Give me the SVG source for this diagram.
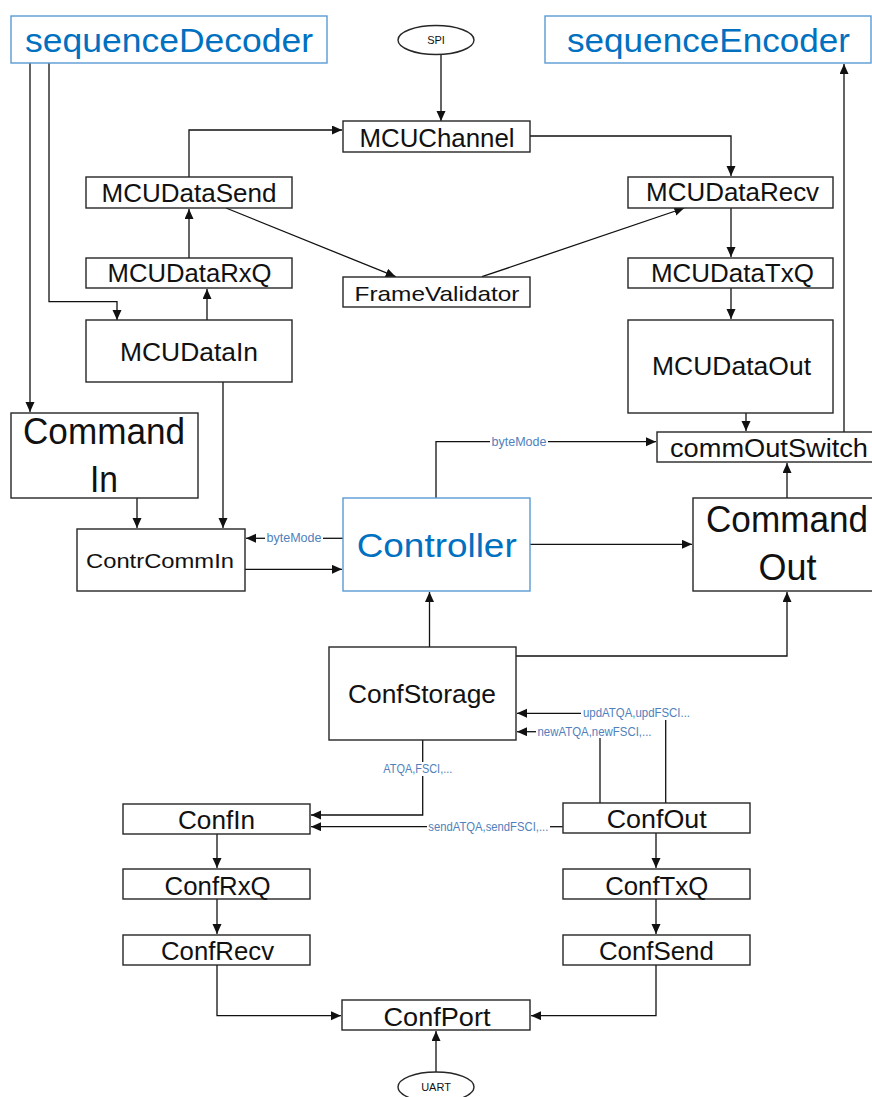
<svg xmlns="http://www.w3.org/2000/svg" width="872" height="1097" viewBox="0 0 872 1097">
<style>
.n{fill:#fff;stroke:#262626;stroke-width:1.4}
.b{fill:#fff;stroke:#5b9bd5;stroke-width:1.4}
.t{font-family:"Liberation Sans",Arial,sans-serif;fill:#111;text-anchor:middle}
.tb{font-family:"Liberation Sans",Arial,sans-serif;fill:#0070c0;text-anchor:middle}
.l{font-family:"Liberation Sans",Arial,sans-serif;fill:#4f7fbc;font-size:12px;text-anchor:middle}
.c{fill:none;stroke:#111;stroke-width:1.3}
.a{marker-end:url(#ah)}
</style>
<defs>
<marker id="ah" markerUnits="userSpaceOnUse" markerWidth="11" markerHeight="10" refX="10" refY="4.5" orient="auto">
<path d="M0,0 L10,4.5 L0,9 z" fill="#111"/>
</marker>
</defs>
<g id="connectors">
<path class="c a" d="M30,63 V412"/>
<path class="c a" d="M49,63 V301.7 H117 V320"/>
<path class="c a" d="M207,320 V289"/>
<path class="c a" d="M189,258 V209"/>
<path class="c a" d="M189,177 V130 H342"/>
<path class="c a" d="M441,54 V121"/>
<path class="c a" d="M530,136 H731 V176"/>
<path class="c a" d="M226,208 L395.7,276.7"/>
<path class="c a" d="M482,276.7 L684.3,208"/>
<path class="c a" d="M731,208 V257"/>
<path class="c a" d="M731,288 V319"/>
<path class="c a" d="M746,413 V431"/>
<path class="c a" d="M844,432 V64"/>
<path class="c a" d="M787,498 V463"/>
<path class="c" d="M436,498 V441.7 H490"/>
<path class="c a" d="M548,441.7 H656"/>
<path class="c a" d="M530,544.3 H692"/>
<path class="c a" d="M137,498 V528"/>
<path class="c a" d="M223,382 V528"/>
<path class="c" d="M343,538.3 H323"/>
<path class="c a" d="M265,538.3 H246"/>
<path class="c a" d="M245,569.3 H342"/>
<path class="c a" d="M429.5,647 V592"/>
<path class="c a" d="M516,656 H787 V592"/>
<path class="c" d="M665.7,803 V720"/>
<path class="c a" d="M581,713.3 H517"/>
<path class="c" d="M600,803 V738"/>
<path class="c a" d="M536,731.7 H517"/>
<path class="c" d="M422.7,740 V762"/>
<path class="c a" d="M422.7,776 V815 H311"/>
<path class="c" d="M562.7,826.7 H550"/>
<path class="c a" d="M427,826.7 H311"/>
<path class="c a" d="M217,834 V868"/>
<path class="c a" d="M217,899 V934"/>
<path class="c a" d="M656,833 V868"/>
<path class="c a" d="M656,899 V934"/>
<path class="c a" d="M217,965 V1015.7 H341"/>
<path class="c a" d="M656,965 V1015.7 H531"/>
<path class="c a" d="M436,1072 V1031"/>
<text class="l" x="519" y="445.8" textLength="55" lengthAdjust="spacingAndGlyphs">byteMode</text>
<text class="l" x="294" y="542.4" textLength="55" lengthAdjust="spacingAndGlyphs">byteMode</text>
<text class="l" x="636.5" y="717.4" textLength="107" lengthAdjust="spacingAndGlyphs">updATQA,updFSCI...</text>
<text class="l" x="594.5" y="735.8" textLength="114" lengthAdjust="spacingAndGlyphs">newATQA,newFSCI,...</text>
<text class="l" x="417.8" y="773.1" textLength="69" lengthAdjust="spacingAndGlyphs">ATQA,FSCI,...</text>
<text class="l" x="488.3" y="830.8" textLength="120" lengthAdjust="spacingAndGlyphs">sendATQA,sendFSCI,...</text>
</g>
<g id="sequenceDecoder"><rect class="b" x="11" y="16" width="316" height="47"/><text class="tb" x="169" y="51.7" font-size="33" textLength="288" lengthAdjust="spacingAndGlyphs">sequenceDecoder</text></g>
<g id="sequenceEncoder"><rect class="b" x="545" y="16" width="326" height="47"/><text class="tb" x="708.5" y="51.7" font-size="33" textLength="283" lengthAdjust="spacingAndGlyphs">sequenceEncoder</text></g>
<g id="SPI"><ellipse class="n" cx="436" cy="40" rx="38" ry="14.5"/><text class="t" x="436" y="44" font-size="11">SPI</text></g>
<g id="MCUChannel"><rect class="n" x="343" y="121" width="187" height="31"/><text class="t" x="437" y="146.7" font-size="25" textLength="155" lengthAdjust="spacingAndGlyphs">MCUChannel</text></g>
<g id="MCUDataSend"><rect class="n" x="86" y="177" width="206" height="31"/><text class="t" x="189" y="201.7" font-size="25" textLength="175" lengthAdjust="spacingAndGlyphs">MCUDataSend</text></g>
<g id="MCUDataRxQ"><rect class="n" x="86" y="258" width="206" height="30"/><text class="t" x="189.5" y="281.7" font-size="25" textLength="164" lengthAdjust="spacingAndGlyphs">MCUDataRxQ</text></g>
<g id="MCUDataIn"><rect class="n" x="86" y="320" width="206" height="62"/><text class="t" x="189" y="361" font-size="25" textLength="138" lengthAdjust="spacingAndGlyphs">MCUDataIn</text></g>
<g id="FrameValidator"><rect class="n" x="343" y="277" width="187" height="30"/><text class="t" x="437" y="300.7" font-size="21" textLength="165" lengthAdjust="spacingAndGlyphs">FrameValidator</text></g>
<g id="MCUDataRecv"><rect class="n" x="628" y="177" width="205" height="31"/><text class="t" x="732.6" y="200.7" font-size="25" textLength="173" lengthAdjust="spacingAndGlyphs">MCUDataRecv</text></g>
<g id="MCUDataTxQ"><rect class="n" x="628" y="258" width="205" height="30"/><text class="t" x="732.4" y="281.7" font-size="25" textLength="163" lengthAdjust="spacingAndGlyphs">MCUDataTxQ</text></g>
<g id="MCUDataOut"><rect class="n" x="628" y="320" width="205" height="93"/><text class="t" x="731.5" y="375" font-size="25" textLength="159" lengthAdjust="spacingAndGlyphs">MCUDataOut</text></g>
<g id="commOutSwitch"><rect class="n" x="657" y="432" width="224" height="30"/><text class="t" x="769" y="456.7" font-size="26" textLength="198" lengthAdjust="spacingAndGlyphs">commOutSwitch</text></g>
<g id="CommandIn"><rect class="n" x="11" y="413" width="187" height="85"/><text class="t" x="104" y="444" font-size="36" textLength="162" lengthAdjust="spacingAndGlyphs">Command</text><text class="t" x="104" y="491.7" font-size="36" textLength="28" lengthAdjust="spacingAndGlyphs">In</text></g>
<g id="ContrCommIn"><rect class="n" x="77" y="529" width="168" height="62"/><text class="t" x="160" y="568.3" font-size="21" textLength="148" lengthAdjust="spacingAndGlyphs">ContrCommIn</text></g>
<g id="Controller"><rect class="b" x="343" y="498" width="187" height="93"/><text class="tb" x="436.7" y="556.7" font-size="34" textLength="160" lengthAdjust="spacingAndGlyphs">Controller</text></g>
<g id="CommandOut"><rect class="n" x="693" y="498" width="188" height="93"/><text class="t" x="787" y="531.7" font-size="36" textLength="162" lengthAdjust="spacingAndGlyphs">Command</text><text class="t" x="787.5" y="580" font-size="36" textLength="58" lengthAdjust="spacingAndGlyphs">Out</text></g>
<g id="ConfStorage"><rect class="n" x="329" y="647" width="187" height="93"/><text class="t" x="422" y="702.7" font-size="26" textLength="148" lengthAdjust="spacingAndGlyphs">ConfStorage</text></g>
<g id="ConfIn"><rect class="n" x="123" y="804" width="187" height="30"/><text class="t" x="216.5" y="829.3" font-size="25" textLength="77" lengthAdjust="spacingAndGlyphs">ConfIn</text></g>
<g id="ConfOut"><rect class="n" x="563" y="803" width="187" height="30"/><text class="t" x="656.7" y="828.3" font-size="25" textLength="100" lengthAdjust="spacingAndGlyphs">ConfOut</text></g>
<g id="ConfRxQ"><rect class="n" x="123" y="869" width="187" height="30"/><text class="t" x="217.6" y="895" font-size="25" textLength="106" lengthAdjust="spacingAndGlyphs">ConfRxQ</text></g>
<g id="ConfRecv"><rect class="n" x="123" y="935" width="187" height="30"/><text class="t" x="217.5" y="960" font-size="25" textLength="113" lengthAdjust="spacingAndGlyphs">ConfRecv</text></g>
<g id="ConfTxQ"><rect class="n" x="563" y="869" width="187" height="30"/><text class="t" x="656.7" y="895" font-size="25" textLength="103" lengthAdjust="spacingAndGlyphs">ConfTxQ</text></g>
<g id="ConfSend"><rect class="n" x="563" y="935" width="187" height="30"/><text class="t" x="656.4" y="960" font-size="25" textLength="115" lengthAdjust="spacingAndGlyphs">ConfSend</text></g>
<g id="ConfPort"><rect class="n" x="342" y="1000" width="188" height="30"/><text class="t" x="437" y="1025.7" font-size="25" textLength="107" lengthAdjust="spacingAndGlyphs">ConfPort</text></g>
<g id="UART"><ellipse class="n" cx="436" cy="1087" rx="38" ry="15"/><text class="t" x="436" y="1091" font-size="11">UART</text></g>
</svg>
